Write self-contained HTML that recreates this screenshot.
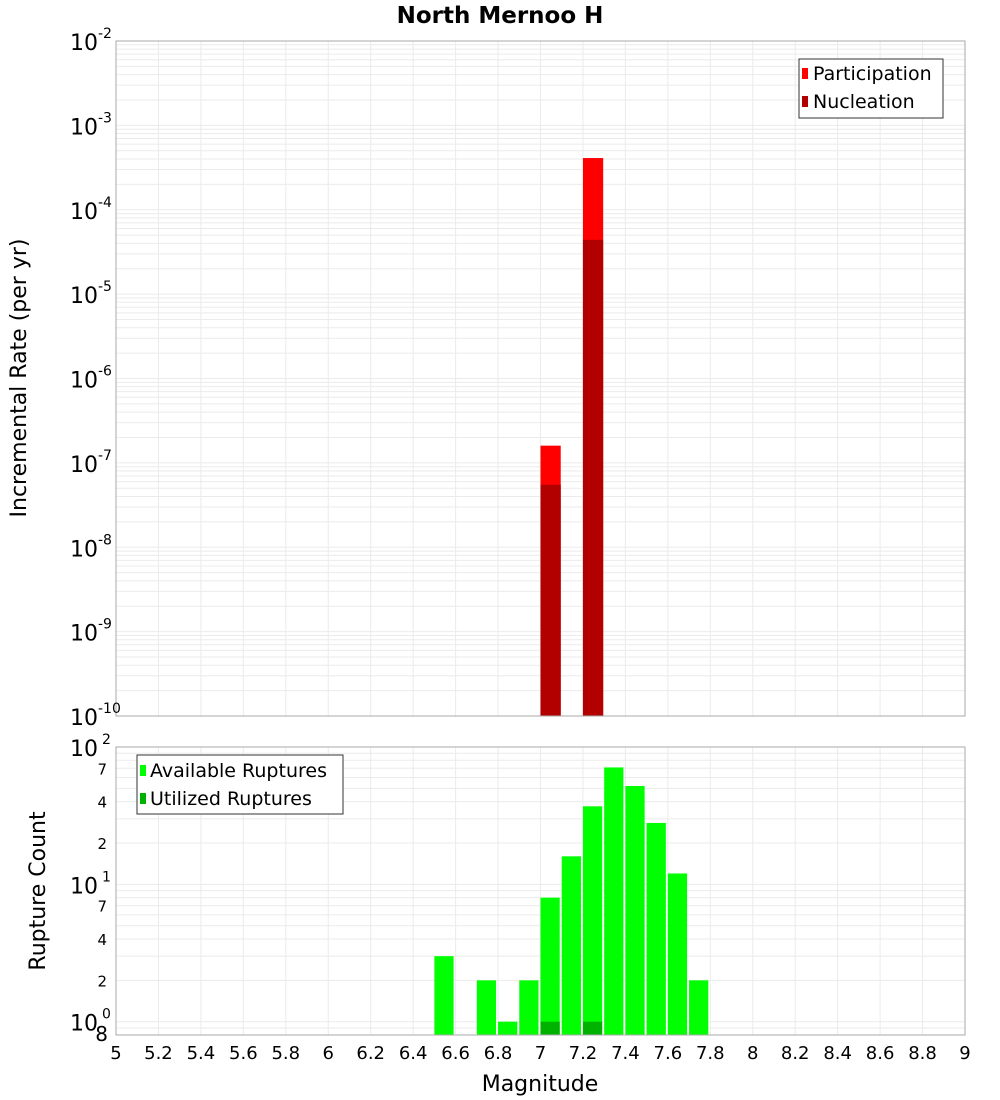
<!DOCTYPE html>
<html><head><meta charset="utf-8">
<style>body{margin:0;background:#fff}svg{display:block;font-family:"DejaVu Sans","Liberation Sans",sans-serif}</style>
</head><body>
<svg id="c" width="1000" height="1100"></svg>
<script>
const binCenters=[7.05,7.25];
const participation=[1.6e-7,4.1e-4];
const nucleation=[5.5e-8,4.4e-5];
const countBins=[6.55,6.75,6.85,6.95,7.05,7.15,7.25,7.35,7.45,7.55,7.65,7.75];
const available=[3,2,1,2,8,16,37,71,52,28,12,2];
const utilBins=[7.05,7.25];
const utilized=[1,1];
const xTicks=[5,5.2,5.4,5.6,5.8,6,6.2,6.4,6.6,6.8,7,7.2,7.4,7.6,7.8,8,8.2,8.4,8.6,8.8,9];
const topExps=[-2,-3,-4,-5,-6,-7,-8,-9,-10];
const botMinor=[70,40,20,7,4,2,0.8];
const botMinorLabels=['7','4','2','7','4','2','8'];

const NS="http://www.w3.org/2000/svg",svg=document.getElementById('c');
function el(t,a,p){const e=document.createElementNS(NS,t);for(const k in a)e.setAttribute(k,a[k]);(p||svg).appendChild(e);return e;}
const L=116,R=965;
const x=m=>L+(m-5)/4*(R-L);
const T1=41,B1=716,yTop=v=>T1+(-2-Math.log10(v))/8*(B1-T1);
const T2=747,B2=1035,lmin=Math.log10(0.8),yBot=v=>T2+(2-Math.log10(v))/(2-lmin)*(B2-T2);

el('rect',{x:L,y:T1,width:R-L,height:B1-T1,fill:'#fff',});
el('rect',{x:L,y:T2,width:R-L,height:B2-T2,fill:'#fff',});
const g=el('g',{stroke:'#ebebeb','stroke-width':1});


for(let e=-10;e<-2;e++)for(let k=1;k<10;k++){const yy=yTop(k*Math.pow(10,e));el('line',{x1:L,x2:R,y1:yy,y2:yy},g);}
for(let e=-1;e<2;e++)for(let k=1;k<10;k++){const v=k*Math.pow(10,e);if(v<0.8)continue;const yy=yBot(v);el('line',{x1:L,x2:R,y1:yy,y2:yy},g);}
xTicks.forEach(t=>{el('line',{x1:x(t),x2:x(t),y1:T1,y2:B1},g);el('line',{x1:x(t),x2:x(t),y1:T2,y2:B2},g);});

binCenters.forEach((m,i)=>{
 const b=el('rect',{x:x(m-0.05),y:yTop(participation[i]),width:x(m+0.05)-x(m-0.05)-1,height:B1-yTop(participation[i]),fill:'#ff0000'});
 
 
 const n=el('rect',{x:x(m-0.05),y:yTop(nucleation[i]),width:x(m+0.05)-x(m-0.05)-1,height:B1-yTop(nucleation[i]),fill:'#b20000'});
 
 
});
countBins.forEach((m,i)=>{
 const b=el('rect',{x:x(m-0.05),y:yBot(available[i]),width:x(m+0.05)-x(m-0.05)-2,height:B2-yBot(available[i]),fill:'#00ff00'});
 
 
});
utilBins.forEach((m,i)=>{
 const b=el('rect',{x:x(m-0.05),y:yBot(utilized[i]),width:x(m+0.05)-x(m-0.05)-2,height:B2-yBot(utilized[i]),fill:'#00b200'});
 
 
});
el('rect',{x:L,y:T1,width:R-L,height:B1-T1,fill:'none',stroke:'#aaa'});
el('rect',{x:L,y:T2,width:R-L,height:B2-T2,fill:'none',stroke:'#aaa'});

topExps.forEach(e=>{
 const yy=yTop(Math.pow(10,e));
 const t=el('text',{x:98,y:yy+9,'text-anchor':'end','font-size':22});
 
 
 t.textContent='10';
 const s=el('text',{x:98,y:yy-3,'font-size':14});
 
 
 s.textContent=String(e);
});
[2,1,0].forEach(e=>{
 const yy=yBot(Math.pow(10,e));
 const t=el('text',{x:98,y:yy+9,'text-anchor':'end','font-size':22});
 
 
 t.textContent='10';
 const s=el('text',{x:102,y:yy-3,'font-size':14});
 
 
 s.textContent=String(e);
});
botMinor.forEach((v,i)=>{
 const t=el('text',{x:v===0.8?108:107,y:yBot(v)+6,'text-anchor':'end','font-size':v===0.8?20:15});
 
 
 t.textContent=botMinorLabels[i];
});
xTicks.forEach(tk=>{
 const t=el('text',{x:x(tk),y:1059,'text-anchor':'middle','font-size':18});
 
 
 t.textContent=String(tk);
});
</script>
<svg width="1000" height="1100" style="position:absolute;left:0;top:0">
<text x="500" y="23" text-anchor="middle" font-size="23" font-weight="bold">North Mernoo H</text>
<text x="540" y="1091" text-anchor="middle" font-size="22">Magnitude</text>
<text transform="translate(26,378) rotate(-90)" text-anchor="middle" font-size="22">Incremental Rate (per yr)</text>
<text transform="translate(45,891) rotate(-90)" text-anchor="middle" font-size="22">Rupture Count</text>
<g>
<rect x="799" y="59" width="144" height="59" fill="#fff" stroke="#333"/>
<rect x="802" y="68" width="6" height="11" fill="#ff0000"/>
<text x="813" y="80" font-size="19">Participation</text>
<rect x="802" y="96" width="6" height="11" fill="#b20000"/>
<text x="813" y="108" font-size="19">Nucleation</text>
</g>
<g>
<rect x="137" y="755" width="206" height="59" fill="#fff" stroke="#333"/>
<rect x="140" y="765" width="6" height="11" fill="#00ff00"/>
<text x="150" y="777" font-size="19">Available Ruptures</text>
<rect x="140" y="793" width="6" height="11" fill="#00b200"/>
<text x="150" y="805" font-size="19">Utilized Ruptures</text>
</g>
</svg>
</body></html>
